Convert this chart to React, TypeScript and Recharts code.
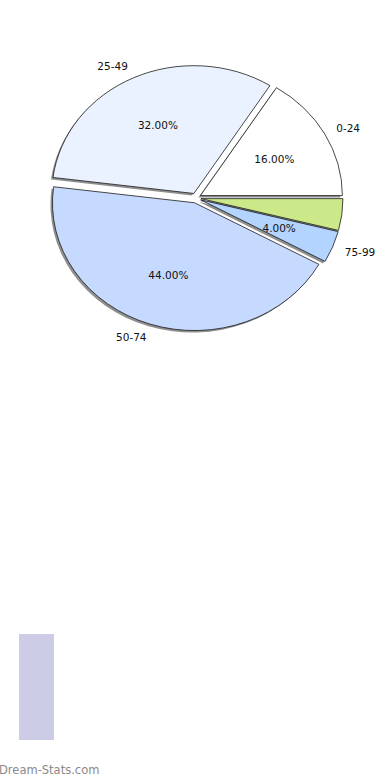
import React from "react";
import { PieChart, Pie, Cell } from "recharts";

const categories = ["0-24", "25-49", "50-74", "75-99", ""];
const values = [16, 32, 44, 4, 4];
const colors = ["#FFFFFF", "#EBF2FF", "#C6DAFF", "#B3D4FF", "#CCE98A"];

const data = categories.map((name, i) => ({ name, value: values[i] }));

const RAD = Math.PI / 180;
const RY_RATIO = 0.9;
const EXPLODE = 5;
const FONT = "'DejaVu Sans', Verdana, sans-serif";

function ellipsePath(cx: number, cy: number, rx: number, ry: number, s: number, e: number) {
  const x1 = cx + rx * Math.cos(s * RAD);
  const y1 = cy - ry * Math.sin(s * RAD);
  const x2 = cx + rx * Math.cos(e * RAD);
  const y2 = cy - ry * Math.sin(e * RAD);
  const large = Math.abs(e - s) > 180 ? 1 : 0;
  return `M${cx},${cy} L${x1},${y1} A${rx},${ry} 0 ${large} 0 ${x2},${y2} Z`;
}

function makeShape(shadow: boolean) {
  return (props: any) => {
    const { cx, cy, outerRadius, startAngle, endAngle, fill } = props;
    const mid = (startAngle + endAngle) / 2;
    const ox = cx + EXPLODE * Math.cos(mid * RAD);
    const oy = cy - EXPLODE * Math.sin(mid * RAD);
    const rx = outerRadius;
    const ry = outerRadius * RY_RATIO;
    if (shadow) {
      return (
        <path
          d={ellipsePath(ox - 2, oy + 2, rx, ry, startAngle, endAngle)}
          fill="#8f8f8f"
          stroke="none"
        />
      );
    }
    return (
      <path
        d={ellipsePath(ox, oy, rx, ry, startAngle, endAngle)}
        fill={fill}
        stroke="#1a1a1a"
        strokeWidth={0.8}
      />
    );
  };
}

const renderLabel = (props: any) => {
  const { cx, cy, midAngle, outerRadius, percent, name } = props;
  if (!name) return null;
  const c = Math.cos(midAngle * RAD);
  const s = Math.sin(midAngle * RAD);
  const irx = outerRadius * 0.63;
  const iry = outerRadius * RY_RATIO * 0.635;
  const orx = outerRadius + 18;
  const ory = outerRadius * RY_RATIO + 18;
  const ix = cx + irx * c;
  const iy = cy - iry * s;
  const lx = cx + orx * c;
  const ly = cy - ory * s;
  return (
    <g>
      <text x={ix} y={iy} textAnchor="middle" dominantBaseline="central" fill="#111" fontSize={10.5} fontFamily={FONT}>
        {(percent * 100).toFixed(2) + "%"}
      </text>
      <text x={lx} y={ly} textAnchor={c >= 0 ? "start" : "end"} dominantBaseline="central" fill="#111" fontSize={10.5} fontFamily={FONT}>
        {name}
      </text>
    </g>
  );
};

export default function App() {
  return (
    <div style={{ position: "absolute", left: 0, top: 0, width: 390, height: 780, background: "#fff", overflow: "hidden" }}>
      <PieChart width={390} height={780} margin={{ top: 0, right: 0, bottom: 0, left: 0 }}>
        <Pie
          data={data}
          dataKey="value"
          nameKey="name"
          cx={196}
          cy={198}
          outerRadius={142}
          startAngle={0}
          endAngle={360}
          isAnimationActive={false}
          shape={makeShape(true)}
          label={false}
          labelLine={false}
        >
          {data.map((d, i) => (
            <Cell key={i} fill={colors[i]} />
          ))}
        </Pie>
        <Pie
          data={data}
          dataKey="value"
          nameKey="name"
          cx={196}
          cy={198}
          outerRadius={142}
          startAngle={0}
          endAngle={360}
          isAnimationActive={false}
          shape={makeShape(false)}
          label={renderLabel}
          labelLine={false}
        >
          {data.map((d, i) => (
            <Cell key={i} fill={colors[i]} />
          ))}
        </Pie>
      </PieChart>
      <div style={{ position: "absolute", left: 19, top: 634, width: 35, height: 106, background: "#CCCCE6" }} />
      <div style={{ position: "absolute", left: -1, top: 763, fontFamily: FONT, fontSize: 11.5, color: "#8a8a8a", whiteSpace: "nowrap" }}>
        Dream-Stats.com
      </div>
    </div>
  );
}
